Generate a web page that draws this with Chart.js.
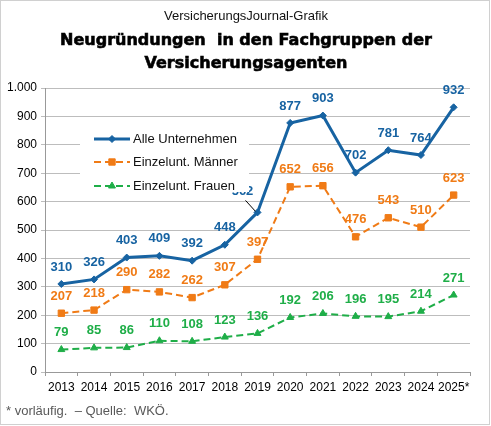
<!DOCTYPE html>
<html><head><meta charset="utf-8">
<script src="https://cdn.jsdelivr.net/npm/chart.js@4"></script>
<style>html,body{margin:0;padding:0;background:#fff;overflow:hidden}</style>
</head><body>
<canvas id="c" width="491" height="426"></canvas>
<script>
const years = ['2013','2014','2015','2016','2017','2018','2019','2020','2021','2022','2023','2024','2025*'];
const alleUnternehmen = [310,326,403,409,392,448,562,877,903,702,781,764,932];
const einzelMaenner = [207,218,290,282,262,307,397,652,656,476,543,510,623];
const einzelFrauen = [79,85,86,110,108,123,136,192,206,196,195,214,271];
const seriesNames = ['Alle Unternehmen','Einzelunt. Männer','Einzelunt. Frauen'];
const yMin = 0, yMax = 1000, yStep = 100;
const topLine = 'VersicherungsJournal-Grafik';
const titleLines = ['Neugründungen  in den Fachgruppen der','Versicherungsagenten'];
const footnote = '* vorläufig.  \u2013 Quelle:  WKÖ.';

const BLUE = '#1763a2', ORANGE = '#f07b16', GREEN = '#1fae48';
const fmt = v => String(v).replace(/\B(?=(\d{3})+(?!\d))/g, '.');

const labelPlugin = {
  id: 'valueLabels',
  afterDatasetsDraw(chart) {
    const ctx = chart.ctx;
    ctx.save();
    ctx.font = 'bold 13px "Liberation Sans", Arial, sans-serif';
    ctx.textAlign = 'center';
    ctx.textBaseline = 'middle';
    chart.data.datasets.forEach((ds, di) => {
      const meta = chart.getDatasetMeta(di);
      meta.data.forEach((pt, i) => {
        let dx = 0, dy = -17;
        const leader = (di === 0 && i === 6);
        if (leader) { dx = -15; dy = -21; }
        ctx.fillStyle = ds.borderColor;
        ctx.fillText(fmt(ds.data[i]), pt.x + dx, pt.y + dy);
        if (leader) {
          ctx.strokeStyle = '#000';
          ctx.lineWidth = 1;
          ctx.beginPath();
          ctx.moveTo(pt.x + dx + 3, pt.y + dy + 9);
          ctx.lineTo(pt.x - 2, pt.y - 1);
          ctx.stroke();
        }
      });
    });
    ctx.restore();
  }
};

const decorPlugin = {
  id: 'decor',
  afterDraw(chart) {
    const ctx = chart.ctx;
    ctx.save();
    // legend box
    ctx.fillStyle = '#fff';
    ctx.fillRect(80, 125, 169, 67);
    const rows = [139, 162, 186];
    chart.data.datasets.forEach((ds, di) => {
      const y = rows[di];
      ctx.strokeStyle = ds.borderColor;
      ctx.lineWidth = ds.borderWidth;
      ctx.setLineDash(ds.borderDash || []);
      ctx.beginPath();
      ctx.moveTo(94, y); ctx.lineTo(130, y);
      ctx.stroke();
      ctx.setLineDash([]);
      ctx.lineWidth = 1;
      ctx.fillStyle = ds.borderColor;
      Chart.helpers.drawPoint(ctx, {pointStyle: ds.pointStyle, radius: ds.pointRadius, rotation: 0, borderWidth: 1}, 112, y);
      ctx.fillStyle = '#111';
      ctx.font = '13px "Liberation Sans", Arial, sans-serif';
      ctx.textAlign = 'left';
      ctx.textBaseline = 'middle';
      ctx.fillText(ds.label, 133, y);
    });
    // titles
    ctx.fillStyle = '#111';
    ctx.textAlign = 'center';
    ctx.textBaseline = 'middle';
    ctx.font = '13px "Liberation Sans", Arial, sans-serif';
    ctx.fillText(topLine, 246, 16);
    ctx.fillStyle = '#000';
    ctx.strokeStyle = '#000';
    ctx.lineWidth = 0.6;
    ctx.font = 'bold 16px "DejaVu Sans", sans-serif';
    ctx.fillText(titleLines[0], 246, 41);
    ctx.strokeText(titleLines[0], 246, 41);
    ctx.fillText(titleLines[1], 246, 64);
    ctx.strokeText(titleLines[1], 246, 64);
    // footnote
    ctx.fillStyle = '#595959';
    ctx.textAlign = 'left';
    ctx.font = '13px "Liberation Sans", Arial, sans-serif';
    ctx.fillText(footnote, 6, 411);
    // outer border
    ctx.strokeStyle = '#d0d0d0';
    ctx.lineWidth = 1;
    ctx.strokeRect(0.5, 0.5, 489, 424);
    ctx.restore();
  }
};

new Chart(document.getElementById('c'), {
  type: 'line',
  data: {
    labels: years,
    datasets: [
      { label: seriesNames[0], data: alleUnternehmen, borderColor: BLUE, backgroundColor: BLUE,
        borderWidth: 3, pointStyle: 'rectRot', pointRadius: 3.5, pointBorderWidth: 1, tension: 0 },
      { label: seriesNames[1], data: einzelMaenner, borderColor: ORANGE, backgroundColor: ORANGE,
        borderWidth: 2, borderDash: [7, 4], pointStyle: 'rect', pointRadius: 4.5, pointBorderWidth: 1, tension: 0 },
      { label: seriesNames[2], data: einzelFrauen, borderColor: GREEN, backgroundColor: GREEN,
        borderWidth: 2, borderDash: [7, 4], pointStyle: 'triangle', pointRadius: 4, pointBorderWidth: 1, tension: 0 }
    ]
  },
  options: {
    responsive: false,
    animation: false,
    devicePixelRatio: 1,
    layout: { padding: { top: 88, left: 0, right: 21, bottom: 24 } },
    plugins: { legend: { display: false }, title: { display: false }, tooltip: { enabled: false } },
    scales: {
      x: {
        offset: true,
        afterFit(s) { s.height = 30; },
        grid: { offset: true, drawOnChartArea: false, drawTicks: true, tickLength: 4, color: '#999' },
        border: { color: '#999' },
        ticks: { color: '#000', font: { family: '"Liberation Sans", Arial, sans-serif', size: 12 }, padding: 4, maxRotation: 0, autoSkip: false }
      },
      y: {
        min: yMin, max: yMax,
        afterFit(s) { s.width = 45; },
        grid: { color: '#bdbdbd', tickLength: 4, drawTicks: true },
        border: { color: '#999' },
        ticks: { stepSize: yStep, color: '#000', padding: 4, font: { family: '"Liberation Sans", Arial, sans-serif', size: 12 },
          callback: v => fmt(v) }
      }
    }
  },
  plugins: [labelPlugin, decorPlugin]
});
</script>
</body></html>
